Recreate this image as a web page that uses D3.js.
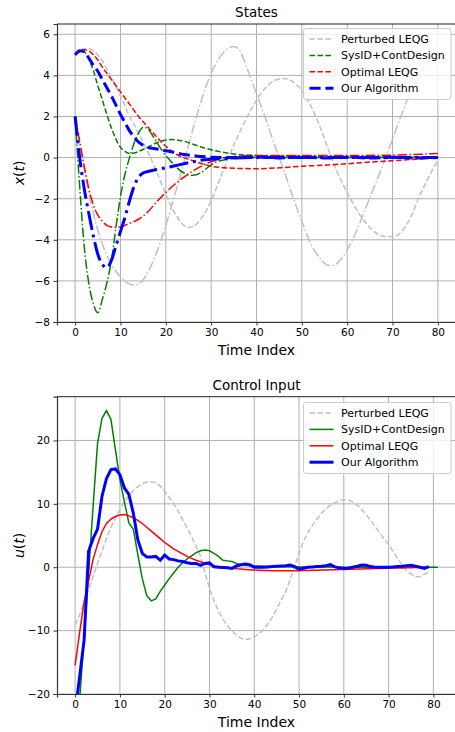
<!DOCTYPE html>
<html lang="en">
	<head>
		<meta charset="utf-8">
		<title>States and control input</title>
		<script type="text/javascript" src="https://cdn.jsdelivr.net/npm/d3@7"></script>
		<style type="text/css">
			body { margin: 0; background: #fff; }
			text { font-family: "DejaVu Sans", sans-serif; fill: #000; }
		</style>
	</head>
	<body>
		<script type="text/javascript">

			//Width and height
			var w = 455;
			var h = 732;

			var labels = ["Perturbed LEQG", "SysID+ContDesign", "Optimal LEQG", "Our Algorithm"];
			var colors = ["#c0c0c0", "green", "red", "blue"];
			var stateTicks = [-8, -6, -4, -2, 0, 2, 4, 6];
			var inputTicks = [-20, -10, 0, 10, 20];
			var timeTicks = [0, 10, 20, 30, 40, 50, 60, 70, 80];

			//state 1 (dashed) and state 2 (dash-dot), [time, value]
			var pertX1 = [[0,5],[1,5.2],[2,5.3],[3,5.3],[4,5.2],[6,4.7],[8,3.9],[10,3.0],[12,2.0],[14,1.2],[16,0.3],[18,-0.7],[20,-1.8],[22,-2.7],[24,-3.3],[25,-3.4],[26,-3.35],[28,-2.9],[30,-2.1],[32,-1.0],[34,0.1],[36,1.1],[38,2.0],[40,2.8],[42,3.4],[44,3.75],[46,3.85],[48,3.7],[50,3.25],[52,2.5],[54,1.5],[56,0.3],[58,-0.8],[60,-1.7],[62,-2.5],[64,-3.15],[66,-3.6],[68,-3.83],[70,-3.85],[72,-3.6],[74,-2.9],[76,-1.85],[78,-0.95],[80,-0.1]];
			var pertX2 = [[0,2],[1,0.7],[2,-0.6],[3,-1.7],[4,-2.7],[6,-4.2],[8,-5.2],[10,-5.8],[12,-6.15],[13,-6.2],[14,-6.15],[16,-5.6],[18,-4.6],[20,-3.3],[22,-1.8],[24,-0.2],[26,1.4],[28,2.9],[30,4.1],[32,4.9],[34,5.35],[35,5.4],[36,5.3],[38,4.3],[40,3.1],[42,1.9],[44,0.6],[46,-0.6],[48,-1.9],[50,-3.1],[52,-4.2],[54,-4.9],[56,-5.25],[57,-5.25],[58,-5.1],[60,-4.5],[62,-3.6],[64,-2.5],[66,-1.4],[68,-0.3],[70,0.9],[72,2.1],[74,3.2],[76,4.1],[78,4.7],[80,5.0]];
			var sysX1 = [[0,5],[1,5.2],[2,5.15],[3,4.8],[4,4.25],[5,3.5],[6,2.8],[7,2.1],[8,1.45],[9,0.9],[10,0.5],[11,0.3],[12,0.2],[13,0.22],[14,0.3],[16,0.5],[18,0.72],[20,0.86],[21,0.88],[22,0.87],[24,0.8],[26,0.65],[28,0.5],[30,0.38],[32,0.28],[35,0.18],[40,0.1],[45,0.08],[50,0.06],[60,0.04],[70,0.03],[80,0.02]];
			var sysX2 = [[0,2],[1,-1.4],[2,-4.3],[3,-6.1],[4,-7.1],[5,-7.55],[6,-6.9],[7,-6.1],[8,-5.0],[9,-3.4],[10,-1.9],[11,-0.8],[12,0.0],[13,0.7],[14,1.2],[15,1.48],[16,1.4],[17,1.1],[18,0.75],[19,0.4],[20,0.1],[21,-0.15],[22,-0.4],[24,-0.75],[26,-0.86],[28,-0.7],[30,-0.35],[32,-0.15],[35,-0.05],[40,0],[50,0],[60,0],[70,0],[80,0]];
			var optX1 = [[0,5],[1,5.15],[2,5.25],[3,5.2],[4,5.0],[5,4.75],[6,4.4],[7,4.1],[8,3.8],[10,3.2],[12,2.6],[14,2.0],[16,1.5],[18,1.0],[20,0.55],[22,0.2],[24,0],[26,-0.15],[28,-0.3],[30,-0.42],[32,-0.48],[35,-0.52],[40,-0.54],[45,-0.5],[50,-0.42],[55,-0.37],[60,-0.3],[65,-0.22],[70,-0.15],[75,-0.08],[80,0]];
			var optX2 = [[0,2],[1,0.8],[2,-0.4],[3,-1.5],[4,-2.3],[5,-2.8],[6,-3.1],[7,-3.3],[8,-3.38],[9,-3.4],[10,-3.37],[12,-3.2],[14,-3.0],[16,-2.65],[18,-2.15],[20,-1.7],[22,-1.3],[24,-0.95],[26,-0.65],[28,-0.4],[30,-0.2],[32,-0.05],[35,0.05],[40,0.1],[50,0.1],[60,0.1],[70,0.12],[80,0.2]];
			var ourX1 = [[0,5],[1,5.2],[2,5.15],[3,4.85],[4,4.5],[5,4.2],[6,3.8],[7,3.4],[8,3.0],[9,2.55],[10,2.1],[11,1.7],[12,1.3],[13,1.0],[14,0.75],[15,0.6],[16,0.5],[18,0.42],[20,0.33],[22,0.25],[24,0.15],[26,0.1],[28,0.05],[30,0.02],[35,0],[40,0.03],[45,-0.02],[50,0.02],[55,-0.02],[60,0.02],[65,-0.02],[70,0.02],[75,-0.02],[80,0]];
			var ourX2 = [[0,2],[1,0],[2,-1.5],[3,-2.7],[4,-3.8],[5,-4.7],[6,-5.2],[7,-5.35],[8,-5.0],[9,-4.3],[10,-3.6],[11,-2.9],[12,-2.1],[13,-1.4],[14,-0.95],[15,-0.75],[16,-0.68],[18,-0.58],[20,-0.5],[22,-0.4],[24,-0.3],[26,-0.2],[28,-0.12],[30,-0.08],[32,-0.05],[35,-0.02],[40,0],[50,0],[60,0],[70,0],[80,0]];

			//control input, one value per time index
			var pertU = [-9.1,-7.5,-5.6,-3.6,-1.5,0.6,2.6,4.5,6.3,7.8,9.1,10.3,11.3,12.1,12.7,13.2,13.45,13.5,13.35,12.8,12.0,11.0,10.0,8.9,7.5,6.2,4.8,3.3,1.8,-0.9,-3.3,-5.3,-6.9,-8.2,-9.2,-10.0,-10.7,-11.2,-11.4,-11.3,-11.0,-10.5,-9.9,-9.0,-7.9,-6.6,-5.2,-3.9,-2.0,0.1,2.2,4.1,5.5,6.6,7.6,8.5,9.2,9.8,10.2,10.5,10.65,10.6,10.3,9.8,9.1,8.3,7.4,6.4,5.4,4.5,3.6,2.5,1.4,0.4,-0.5,-1.1,-1.5,-1.45,-1.1,-0.8];
			var sysU = [-42,-21,-11,-1,9.5,19.5,23.5,24.7,23.3,18.5,13.8,10.3,7.0,6.0,2.0,-1.8,-4.5,-5.3,-5.0,-3.8,-2.8,-1.8,-0.9,0,0.7,1.3,1.8,2.3,2.6,2.7,2.6,2.2,1.7,1.1,1.0,0.9,0.6,0.4,0.3,0.25,0.2,0.18,0.15,0.13,0.12,0.1,0.09,0.08,0.07,0.06,0.05,0.05,0.04,0.04,0.03,0.03,0.02,0.02,0.02,0.01,0.01,0.01,0,0,0,0,0,0,0,0,0,0,0,0,0,0,0,0,0,0,0,0];
			var optU = [-15.5,-10.3,-5.5,-2.2,1.2,3.6,5.6,6.9,7.6,8.0,8.25,8.3,8.1,7.8,7.4,6.9,6.3,5.7,5.1,4.5,3.9,3.4,2.9,2.5,2.1,1.7,1.4,1.1,0.85,0.6,0.4,0.25,0.1,0,-0.1,-0.18,-0.25,-0.3,-0.35,-0.4,-0.45,-0.48,-0.5,-0.52,-0.54,-0.55,-0.55,-0.55,-0.55,-0.55,-0.55,-0.53,-0.5,-0.48,-0.46,-0.45,-0.43,-0.4,-0.38,-0.36,-0.35,-0.33,-0.31,-0.29,-0.27,-0.25,-0.23,-0.21,-0.19,-0.17,-0.15,-0.14,-0.12,-0.11,-0.09,-0.08,-0.06,-0.04,-0.02,0];
			var ourU = [-23,-17.3,-11.5,2.5,4.5,6.0,11.2,14.0,15.4,15.5,14.6,12.5,11.5,8.5,4.3,2.2,1.6,1.6,1.7,1.1,1.9,1.3,1.2,1.0,0.9,0.7,0.6,0.6,0.3,0.6,0.7,0.05,0,-0.05,-0.1,-0.2,0.2,0.4,0.5,0.4,0,0,0,0.05,0.1,0.15,0.2,0.25,0.35,0.1,-0.3,-0.15,0,0.05,0.1,0.15,0.25,0.4,0.05,-0.1,-0.2,-0.15,0,0.15,0.35,0.3,0.1,0,0,0,0,0.05,0.1,0.15,0.25,0.3,0.15,0,-0.2,0.1];

			//line styles
			var dash15 = "5.55,2.4";
			var dashdot15 = "9.6,2.4,1.5,2.4";
			var dash3 = "11.1,4.8";
			var dashdot3 = "19.2,4.8,3,4.8";

			//Create SVG element
			var svg = d3.select("body")
						.append("svg")
						.attr("width", w)
						.attr("height", h);

			function indexed(arr) {
				return arr.map(function(v, i) { return [i, v]; });
			}

			//draws one panel and gives back its scales
			function panel(opts) {
				var x = d3.scaleLinear().domain(opts.xDomain).range([57, 456]);
				var y = d3.scaleLinear().domain(opts.yDomain).range([opts.bottom, opts.top]);
				var g = svg.append("g");

				//grid
				g.selectAll(".vg").data(timeTicks).enter().append("line")
					.attr("x1", function(d) { return x(d); })
					.attr("x2", function(d) { return x(d); })
					.attr("y1", opts.top).attr("y2", opts.bottom)
					.attr("stroke", "#b0b0b0").attr("stroke-width", 1);
				g.selectAll(".hg").data(opts.yTicks).enter().append("line")
					.attr("x1", 57).attr("x2", 456)
					.attr("y1", function(d) { return y(d); })
					.attr("y2", function(d) { return y(d); })
					.attr("stroke", "#b0b0b0").attr("stroke-width", 1);

				var clipId = "clip" + opts.top;
				svg.append("clipPath").attr("id", clipId).append("rect")
					.attr("x", 57).attr("y", opts.top)
					.attr("width", 399).attr("height", opts.bottom - opts.top);

				var line = d3.line()
					.x(function(d) { return x(d[0]); })
					.y(function(d) { return y(d[1]); })
					.curve(opts.curve);

				var lines = g.append("g").attr("clip-path", "url(#" + clipId + ")");
				opts.series.forEach(function(s) {
					lines.append("path")
						.attr("d", line(s.data))
						.attr("fill", "none")
						.attr("stroke", s.color)
						.attr("stroke-width", s.width)
						.attr("stroke-dasharray", s.dash);
				});

				//axes
				var xAxis = d3.axisBottom(x).tickValues(timeTicks).tickSize(3.5).tickPadding(3.5);
				var yAxis = d3.axisLeft(y).tickValues(opts.yTicks).tickSize(3.5).tickPadding(3.5);
				var gx = g.append("g").attr("transform", "translate(0," + opts.bottom + ")").call(xAxis);
				var gy = g.append("g").attr("transform", "translate(57,0)").call(yAxis);
				[gx, gy].forEach(function(a) {
					a.selectAll("text").attr("font-size", "10.5px").attr("font-family", "DejaVu Sans");
					a.select(".domain").attr("stroke", "#333").attr("stroke-width", 1.2);
					a.selectAll(".tick line").attr("stroke", "#333");
				});
				g.append("line").attr("x1", 57).attr("x2", 456).attr("y1", opts.top).attr("y2", opts.top)
					.attr("stroke", "#222").attr("stroke-width", 1);

				//titles
				g.append("text").text(opts.title)
					.attr("x", 256.5).attr("y", opts.top - 7)
					.attr("text-anchor", "middle").attr("font-size", "13.5px");
				g.append("text").text("Time Index")
					.attr("x", 256.5).attr("y", opts.bottom + 33)
					.attr("text-anchor", "middle").attr("font-size", "14px");
				var yl = g.append("text")
					.attr("transform", "translate(24," + ((opts.top + opts.bottom) / 2) + ") rotate(-90)")
					.attr("text-anchor", "middle").attr("font-size", "14px");
				yl.append("tspan").text(opts.yVar).attr("font-style", "italic");
				yl.append("tspan").text("(");
				yl.append("tspan").text("t").attr("font-style", "italic");
				yl.append("tspan").text(")");

				//legend
				var lg = g.append("g").attr("transform", "translate(303.5," + opts.legendTop + ")");
				lg.append("rect").attr("width", 147.5).attr("height", 71).attr("rx", 2.5)
					.attr("fill", "white").attr("fill-opacity", 0.8)
					.attr("stroke", "#cccccc").attr("stroke-width", 1);
				opts.legend.forEach(function(s, i) {
					var yy = 10.5 + i * 16.4;
					lg.append("line").attr("x1", 6).attr("x2", 30).attr("y1", yy).attr("y2", yy)
						.attr("stroke", s.color).attr("stroke-width", s.width)
						.attr("stroke-dasharray", s.dash);
					lg.append("text").text(labels[i])
						.attr("x", 37.5).attr("y", yy + 4).attr("font-size", "11px");
				});
				return {x: x, y: y};
			}

			//top panel: states
			panel({
				top: 24, bottom: 322,
				xDomain: [-4, 84], yDomain: [-8, 6.5],
				yTicks: stateTicks, title: "States", yVar: "x",
				curve: d3.curveMonotoneX, legendTop: 28.5,
				series: [
					{data: pertX1, color: colors[0], width: 1.5, dash: dash15},
					{data: pertX2, color: colors[0], width: 1.5, dash: dashdot15},
					{data: sysX1, color: colors[1], width: 1.5, dash: dash15},
					{data: sysX2, color: colors[1], width: 1.5, dash: dashdot15},
					{data: optX1, color: colors[2], width: 1.5, dash: dash15},
					{data: optX2, color: colors[2], width: 1.5, dash: dashdot15},
					{data: ourX1, color: colors[3], width: 3, dash: dash3},
					{data: ourX2, color: colors[3], width: 3, dash: dashdot3}
				],
				legend: [
					{color: colors[0], width: 1.5, dash: dash15},
					{color: colors[1], width: 1.5, dash: dash15},
					{color: colors[2], width: 1.5, dash: dash15},
					{color: colors[3], width: 3, dash: dash3}
				]
			});

			//bottom panel: control input
			panel({
				top: 396.7, bottom: 694,
				xDomain: [-4.05, 85.05], yDomain: [-20, 26.9],
				yTicks: inputTicks, title: "Control Input", yVar: "u",
				curve: d3.curveLinear, legendTop: 402.5,
				series: [
					{data: indexed(pertU), color: colors[0], width: 1.5, dash: dash15},
					{data: indexed(sysU), color: colors[1], width: 1.5, dash: null},
					{data: indexed(optU), color: colors[2], width: 1.5, dash: null},
					{data: indexed(ourU), color: colors[3], width: 3, dash: null}
				],
				legend: [
					{color: colors[0], width: 1.5, dash: dash15},
					{color: colors[1], width: 1.5, dash: null},
					{color: colors[2], width: 1.5, dash: null},
					{color: colors[3], width: 3, dash: null}
				]
			});

		</script>
	</body>
</html>
